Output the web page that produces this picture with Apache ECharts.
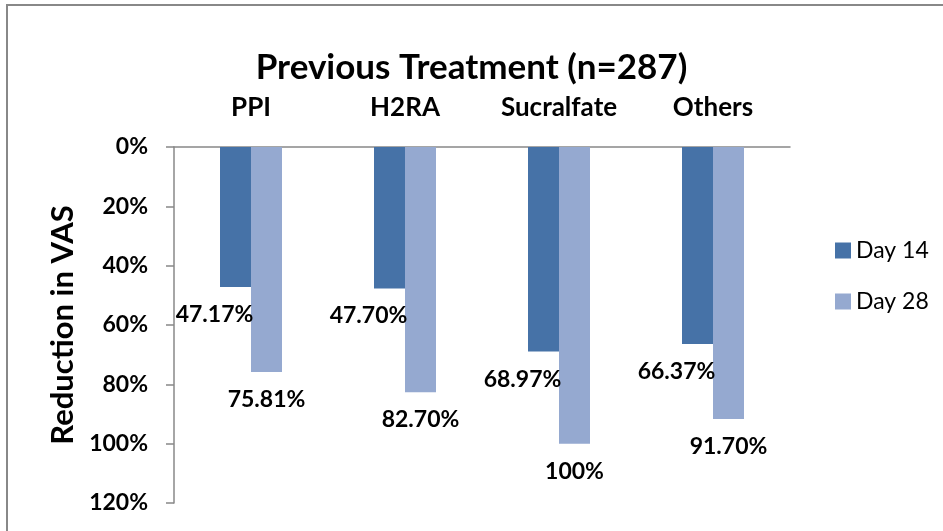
<!DOCTYPE html>
<html>
<head>
<meta charset="utf-8">
<script src="https://cdn.jsdelivr.net/npm/echarts@6/dist/echarts.min.js"></script>
<style>
   html, body { margin: 0; padding: 0; background: #fff; }
   #chart { width: 943px; height: 531px; }
</style>
</head>
<body>
<div id="chart"></div>
<script>
   // 数据
   var categories = ['PPI', 'H2RA', 'Sucralfate', 'Others'];
   var day14 = [47.17, 47.70, 68.97, 66.37];
   var day28 = [75.81, 82.70, 100, 91.70];
   var day14Labels = ['47.17%', '47.70%', '68.97%', '66.37%'];
   var day28Labels = ['75.81%', '82.70%', '100%', '91.70%'];

   var font = 'Lato';
   var myChart = echarts.init(document.getElementById('chart'));

   function withLabels(values, labels){
      return values.map(function(v, i){ return {value: v, labelText: labels[i]}; });
   }

   var option = {
      backgroundColor: '#fff',
      animation: false,
      title: {
         text: 'Previous Treatment (n=287)',
         left: 'center',
         top: 45,
         textStyle: {fontFamily: font, fontSize: 35, fontWeight: 'bold', color: '#000'}
      },
      graphic: [{
         type: 'rect',
         shape: {x: 7, y: 5, width: 960, height: 560},
         style: {fill: 'none', stroke: '#888', lineWidth: 2},
         silent: true
      }],
      legend: {
         orient: 'vertical',
         left: 830,
         top: 234,
         icon: 'rect',
         itemWidth: 16,
         itemHeight: 16,
         itemGap: 28,
         data: ['Day 14', 'Day 28'],
         textStyle: {fontFamily: font, fontSize: 23, color: '#000'}
      },
      grid: {left: 174, right: 153, top: 147, bottom: 28},
      xAxis: {
         type: 'category',
         position: 'top',
         data: categories,
         axisLine: {lineStyle: {color: '#888', width: 1.5}},
         axisTick: {show: false},
         axisLabel: {fontFamily: font, fontSize: 26, fontWeight: 'bold', color: '#000', margin: 26}
      },
      yAxis: {
         type: 'value',
         inverse: true,
         min: 0,
         max: 120,
         interval: 20,
         name: 'Reduction in VAS',
         nameLocation: 'middle',
         nameGap: 96,
         nameTextStyle: {fontFamily: font, fontSize: 31, fontWeight: 'bold', color: '#000'},
         axisLine: {show: true, lineStyle: {color: '#888', width: 1.5}},
         axisTick: {show: true, length: 8, lineStyle: {color: '#888', width: 1.5}},
         splitLine: {show: false},
         axisLabel: {formatter: '{value}%', fontFamily: font, fontSize: 23, fontWeight: 'bold', color: '#000', margin: 26}
      },
      series: [
         {
            name: 'Day 14',
            type: 'bar',
            barWidth: 31,
            barGap: '0%',
            itemStyle: {color: '#4672A7'},
            label: {
               show: true, position: 'bottom', distance: 16, offset: [-21, 0],
               fontFamily: font, fontSize: 23, fontWeight: 'bold', color: '#000',
               formatter: function(p){ return p.data.labelText; }
            },
            data: withLabels(day14, day14Labels)
         },
         {
            name: 'Day 28',
            type: 'bar',
            barWidth: 31,
            itemStyle: {color: '#95A9D0'},
            label: {
               show: true, position: 'bottom', distance: 16,
               fontFamily: font, fontSize: 23, fontWeight: 'bold', color: '#000',
               formatter: function(p){ return p.data.labelText; }
            },
            data: withLabels(day28, day28Labels)
         }
      ]
   };
   myChart.setOption(option);
</script>
</body>
</html>
